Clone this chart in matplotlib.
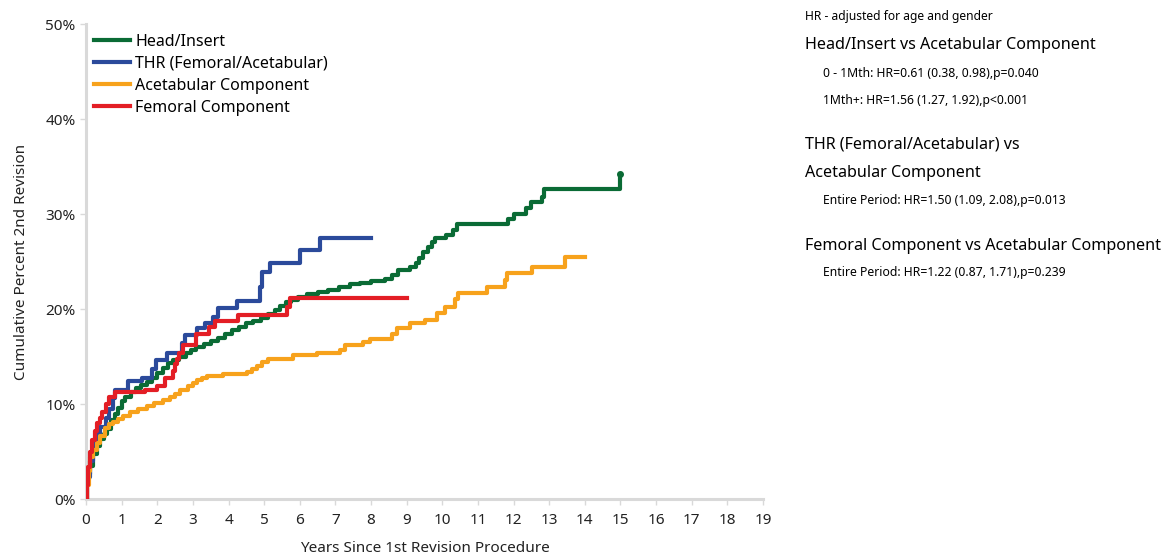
import matplotlib
matplotlib.use("Agg")
import matplotlib.pyplot as plt

plt.rcParams["font.family"] = ["Noto Sans", "DejaVu Sans"]

# ---- data (years, cumulative %), step points ------------------------------
head_t = [0, 0.02, 0.05, 0.1, 0.2, 0.3, 0.4, 0.5, 0.6, 0.7, 0.8, 0.9, 1.0, 1.1, 1.25,
          1.4, 1.55, 1.7, 1.85, 2.0, 2.15, 2.3, 2.45, 2.6, 2.8, 2.95, 3.1, 3.3, 3.5,
          3.7, 3.9, 4.1, 4.3, 4.5, 4.7, 4.9, 5.1, 5.3, 5.45, 5.6, 5.75, 5.95, 6.2,
          6.5, 6.8, 7.1, 7.4, 7.7, 8.0, 8.4, 8.6, 8.75, 9.1, 9.25, 9.35, 9.45, 9.6,
          9.7, 9.8, 10.1, 10.3, 10.4, 11.85, 12.0, 12.35, 12.5, 12.8, 12.85, 15.0]
head_v = [0, 1.5, 2.6, 3.5, 4.8, 5.6, 6.3, 6.9, 7.4, 8.3, 9.0, 9.6, 10.3, 10.8, 11.3,
          11.7, 12.0, 12.3, 12.8, 13.3, 13.8, 14.3, 14.6, 15.0, 15.4, 15.7, 16.0, 16.3, 16.6,
          17.0, 17.4, 17.8, 18.1, 18.5, 18.8, 19.1, 19.5, 19.9, 20.3, 20.7, 21.0, 21.3, 21.6,
          21.8, 22.0, 22.3, 22.6, 22.8, 23.0, 23.2, 23.6, 24.1, 24.4, 24.9, 25.4, 26.0, 26.5,
          27.1, 27.5, 27.8, 28.3, 29.0, 29.5, 30.0, 30.6, 31.3, 31.8, 32.6, 34.2]

thr_t = [0, 0.03, 0.1, 0.2, 0.3, 0.4, 0.55, 0.65, 0.75, 0.81, 1.18, 1.57, 1.85, 1.96,
         2.27, 2.69, 2.78, 3.11, 3.34, 3.57, 3.7, 4.24, 4.88, 4.95, 5.16, 6.0, 6.57, 8.0]
thr_v = [0, 2.3, 4.0, 5.9, 6.9, 7.6, 8.5, 9.5, 10.7, 11.5, 12.4, 12.8, 13.7, 14.6,
         15.4, 16.4, 17.3, 18.0, 18.5, 19.2, 20.1, 20.9, 22.3, 23.9, 24.9, 26.2, 27.5, 27.5]

acet_t = [0, 0.03, 0.08, 0.11, 0.2, 0.3, 0.4, 0.53, 0.65, 0.77, 0.9, 1.05, 1.23, 1.45,
          1.7, 1.9, 2.17, 2.35, 2.5, 2.64, 2.85, 3.0, 3.11, 3.25, 3.4, 3.85, 4.52, 4.65,
          4.8, 4.95, 5.11, 5.81, 6.48, 7.13, 7.27, 7.78, 7.97, 8.6, 8.73, 9.09, 9.51,
          9.85, 10.08, 10.36, 10.44, 11.25, 11.76, 11.82, 12.52, 13.44, 14.0]
acet_v = [0, 1.5, 3.0, 4.4, 5.2, 5.9, 6.6, 7.5, 7.9, 8.1, 8.4, 8.8, 9.2, 9.5,
          9.8, 10.1, 10.4, 10.8, 11.1, 11.5, 11.9, 12.2, 12.5, 12.8, 13.0, 13.2, 13.4, 13.7,
          14.0, 14.4, 14.7, 15.2, 15.4, 15.7, 16.2, 16.5, 16.9, 17.4, 18.0, 18.5, 18.9,
          19.6, 20.2, 21.1, 21.7, 22.3, 23.1, 23.8, 24.4, 25.5, 25.5]

fem_t = [0, 0.02, 0.06, 0.1, 0.17, 0.25, 0.3, 0.38, 0.45, 0.55, 0.65, 0.81, 1.66, 2.0,
         2.22, 2.45, 2.5, 2.55, 2.6, 2.72, 3.1, 3.45, 3.62, 4.27, 5.64, 5.73, 9.0]
fem_v = [0, 1.5, 3.4, 5.0, 6.2, 7.2, 8.0, 8.5, 9.2, 10.0, 10.8, 11.3, 11.5, 11.9,
         12.8, 13.5, 14.2, 14.8, 15.4, 16.2, 17.4, 18.1, 18.8, 19.4, 20.2, 21.2, 21.2]

GREEN, BLUE, ORANGE, RED = "#0a6b35", "#2b4a9b", "#f7a21c", "#e31e25"
GRID = "#d9d9d9"

fig = plt.figure(figsize=(11.63, 5.59), dpi=100)
ax = fig.add_axes([0.074, 0.107, 0.582, 0.85])

ax.step(head_t, head_v, where="post", color=GREEN, lw=3, label="Head/Insert", zorder=3)
ax.plot(head_t[-1], head_v[-1], "o", color=GREEN, ms=4, zorder=4)
ax.step(thr_t, thr_v, where="post", color=BLUE, lw=3, label="THR (Femoral/Acetabular)", zorder=3)
ax.step(acet_t, acet_v, where="post", color=ORANGE, lw=3, label="Acetabular Component", zorder=3)
ax.step(fem_t, fem_v, where="post", color=RED, lw=3, label="Femoral Component", zorder=3)

ax.set_xlim(0, 19); ax.set_ylim(0, 50)
ax.set_xticks(range(0, 20))
ax.set_yticks(range(0, 51, 10))
ax.set_yticklabels([f"{v}%" for v in range(0, 51, 10)])
for s in ("top", "right"):
    ax.spines[s].set_visible(False)
for s in ("left", "bottom"):
    ax.spines[s].set_color(GRID); ax.spines[s].set_linewidth(2.2)
ax.tick_params(colors=GRID, labelcolor="#222222", labelsize=11, length=4, width=1)
ax.tick_params(axis="x", pad=6)
ax.set_xlabel("Years Since 1st Revision Procedure", fontsize=11, color="#222222", labelpad=9)
ax.set_ylabel("Cumulative Percent 2nd Revision", fontsize=11, color="#222222", labelpad=12)

ax.legend(loc="upper left", bbox_to_anchor=(0.003, 0.993), frameon=False, fontsize=11.5,
          handlelength=2.2, handletextpad=0.35, labelspacing=0.38, borderaxespad=0)

# ---- hazard ratio notes ----------------------------------------------------
X0, X1 = 0.692, 0.708
fig.text(X0, 0.97, "HR - adjusted for age and gender", fontsize=8.7, va="center")
fig.text(X0, 0.919, "Head/Insert vs Acetabular Component", fontsize=11.6, va="center")
fig.text(X1, 0.869, "0 - 1Mth: HR=0.61 (0.38, 0.98),p=0.040", fontsize=8.8, va="center")
fig.text(X1, 0.821, "1Mth+: HR=1.56 (1.27, 1.92),p<0.001", fontsize=8.8, va="center")
fig.text(X0, 0.741, "THR (Femoral/Acetabular) vs", fontsize=11.6, va="center")
fig.text(X0, 0.691, "Acetabular Component", fontsize=11.6, va="center")
fig.text(X1, 0.642, "Entire Period: HR=1.50 (1.09, 2.08),p=0.013", fontsize=8.8, va="center")
fig.text(X0, 0.560, "Femoral Component vs Acetabular Component", fontsize=11.6, va="center")
fig.text(X1, 0.513, "Entire Period: HR=1.22 (0.87, 1.71),p=0.239", fontsize=8.8, va="center")

fig.savefig("out.png", dpi=100)
